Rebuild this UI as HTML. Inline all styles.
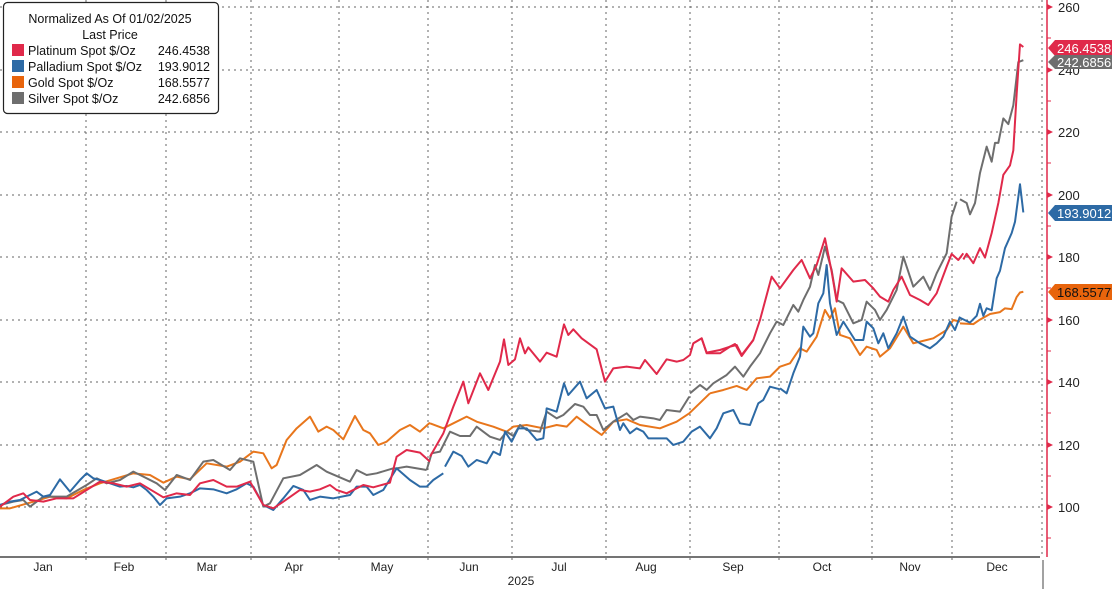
<!DOCTYPE html>
<html><head><meta charset="utf-8"><style>
html,body{margin:0;padding:0;background:#fff;}
svg{display:block;font-family:"Liberation Sans",sans-serif;}
</style></head><body>
<svg width="1112" height="589" viewBox="0 0 1112 589" xmlns="http://www.w3.org/2000/svg">
<rect width="1112" height="589" fill="#fff"/>
<g stroke="#666" stroke-width="1" stroke-dasharray="2,4">
<line x1="0" y1="7" x2="1044" y2="7"/><line x1="0" y1="70" x2="1044" y2="70"/>
<line x1="0" y1="132" x2="1044" y2="132"/><line x1="0" y1="195" x2="1044" y2="195"/>
<line x1="0" y1="257" x2="1044" y2="257"/><line x1="0" y1="320" x2="1044" y2="320"/>
<line x1="0" y1="382" x2="1044" y2="382"/><line x1="0" y1="445" x2="1044" y2="445"/>
<line x1="0" y1="507" x2="1044" y2="507"/>
<line x1="86" y1="0" x2="86" y2="562"/><line x1="166" y1="0" x2="166" y2="562"/>
<line x1="251" y1="0" x2="251" y2="562"/><line x1="339" y1="0" x2="339" y2="562"/>
<line x1="428" y1="0" x2="428" y2="562"/><line x1="512" y1="0" x2="512" y2="562"/>
<line x1="606" y1="0" x2="606" y2="562"/><line x1="690" y1="0" x2="690" y2="562"/>
<line x1="779" y1="0" x2="779" y2="562"/><line x1="872" y1="0" x2="872" y2="562"/>
<line x1="952" y1="0" x2="952" y2="562"/><line x1="1042" y1="0" x2="1042" y2="557"/>
</g>
<line x1="0" y1="557" x2="1040" y2="557" stroke="#222" stroke-width="1.2"/>
<line x1="1043" y1="560" x2="1043" y2="589" stroke="#444" stroke-width="1"/>
<g font-size="12" fill="#222" text-anchor="middle">
<text x="43" y="571">Jan</text><text x="124" y="571">Feb</text><text x="207" y="571">Mar</text>
<text x="294" y="571">Apr</text><text x="382" y="571">May</text><text x="469" y="571">Jun</text>
<text x="559" y="571">Jul</text><text x="646" y="571">Aug</text><text x="733" y="571">Sep</text>
<text x="822" y="571">Oct</text><text x="910" y="571">Nov</text><text x="997" y="571">Dec</text>
<text x="521" y="585">2025</text>
</g>
<line x1="1047" y1="0" x2="1047" y2="557" stroke="#e0294a" stroke-width="1.5"/>
<g fill="#e0294a">
<path d="M1047,4 l6,3 l-6,3z"/><path d="M1047,67 l6,3 l-6,3z"/><path d="M1047,129 l6,3 l-6,3z"/>
<path d="M1047,192 l6,3 l-6,3z"/><path d="M1047,254 l6,3 l-6,3z"/><path d="M1047,317 l6,3 l-6,3z"/>
<path d="M1047,379 l6,3 l-6,3z"/><path d="M1047,442 l6,3 l-6,3z"/><path d="M1047,504 l6,3 l-6,3z"/>
</g>
<g stroke="#e0294a" stroke-width="1">
<line x1="1047" y1="38" x2="1051" y2="38"/><line x1="1047" y1="101" x2="1051" y2="101"/>
<line x1="1047" y1="163" x2="1051" y2="163"/><line x1="1047" y1="226" x2="1051" y2="226"/>
<line x1="1047" y1="288" x2="1051" y2="288"/><line x1="1047" y1="351" x2="1051" y2="351"/>
<line x1="1047" y1="413" x2="1051" y2="413"/><line x1="1047" y1="476" x2="1051" y2="476"/>
<line x1="1047" y1="538" x2="1051" y2="538"/>
</g>
<g font-size="13" fill="#222">
<text x="1058" y="12">260</text><text x="1058" y="75">240</text><text x="1058" y="137">220</text>
<text x="1058" y="200">200</text><text x="1058" y="262">180</text><text x="1058" y="325">160</text>
<text x="1058" y="387">140</text><text x="1058" y="450">120</text><text x="1058" y="512">100</text>
</g>
<g fill="none" stroke-width="2" stroke-linejoin="round">
<g stroke="#e8761c">
<polyline transform="translate(0,380) scale(0.3333)" vector-effect="non-scaling-stroke" points="0,385 30,385 100,365 150,350 200,355 250,330 300,310 350,295 400,280 450,285 490,308 530,290 570,298 620,250 680,260 720,245 760,215 790,220 815,265 830,255 860,180 890,145 930,110 955,155 980,140 1000,150 1030,178 1065,108 1090,150 1110,160 1135,195 1160,185 1200,150 1230,135 1260,155 1290,128"/>
<polyline transform="translate(400,300) scale(0.3333)" vector-effect="non-scaling-stroke" points="90,370 130,385 200,350 230,365 280,380 320,395 340,380 380,375 430,385 470,375 500,380 530,350 570,380 605,405 640,365 680,358 720,375 780,385 830,365 868,340 930,280"/>
<polyline transform="translate(680,100) scale(0.3333)" vector-effect="non-scaling-stroke" points="90,880 130,870 170,858 200,870 230,835 270,830 300,800 330,790 360,745 380,755 410,710 435,630 450,655 465,625 480,705 510,715 540,765 560,740 590,750 600,770 630,745 670,680 700,730 740,720 760,715 800,690 820,660 840,665"/>
<polyline transform="translate(960,0) scale(0.3333,0.376)" vector-effect="non-scaling-stroke" points="0,860 40,862 60,850 90,835 120,830 135,820 155,822 170,790 180,778 190,776"/>
</g>
<g stroke="#6e6e6e">
<polyline transform="translate(0,380) scale(0.3333)" vector-effect="non-scaling-stroke" points="0,375 40,365 70,360 90,380 130,350 200,350 260,315 290,295 320,310 360,300 400,275 430,290 470,310 495,330 530,285 570,300 610,245 640,240 690,270 720,235 760,245 790,380 810,370 850,295 900,285 950,255 980,275 1050,305 1070,270 1100,285 1130,280 1180,265 1190,265 1220,260 1280,270"/>
<polyline transform="translate(400,300) scale(0.3333)" vector-effect="non-scaling-stroke" points="80,510 95,460 120,455 150,395 180,408 210,408 230,380 270,410 300,420 320,395 340,408 360,375 380,390 420,395 440,335 470,355 490,345 525,312 550,320 570,345 590,345 610,390 640,365 680,340 700,360 720,350 760,355 780,360 800,330 840,335 868,290"/>
<polyline transform="translate(680,100) scale(0.3333)" vector-effect="non-scaling-stroke" points="30,880 60,855 80,870 100,850 140,825 165,800 190,830 210,800 240,760 270,700 290,665 310,675 340,615 355,635 370,600 390,560 405,495 415,525 435,440 455,510 470,600 490,610 520,670 545,660 560,605 585,630 600,660 620,630 650,570 670,470 700,560 730,530 750,570 770,520 800,460 815,350 830,305"/>
<polyline transform="translate(960,0) scale(0.3333,0.376)" vector-effect="non-scaling-stroke" points="0,530 20,540 30,570 45,540 60,460 80,390 95,430 105,380 115,380 130,315 145,330 160,280 175,165 190,160"/>
</g>
<g stroke="#2d6aa5">
<polyline transform="translate(0,380) scale(0.3333)" vector-effect="non-scaling-stroke" points="0,375 30,365 60,360 80,350 110,335 130,350 150,345 180,298 210,335 240,300 260,280 280,295 300,300 330,310 360,320 380,318 400,322 420,315 440,330 460,350 480,375 500,355 540,350 570,340 600,325 640,328 680,340 710,328 740,310 760,320 790,375 820,390 850,355 880,318 910,330 930,360 960,350 1000,355 1050,345 1070,320 1100,320 1120,345 1150,330 1190,265 1230,300 1260,320 1280,320 1300,300 1330,280"/>
<polyline transform="translate(400,300) scale(0.3333)" vector-effect="non-scaling-stroke" points="135,500 160,455 185,468 205,500 230,480 260,490 280,455 300,465 315,395 335,425 355,385 380,385 410,420 430,415 440,325 470,335 492,250 505,285 540,245 560,295 590,270 615,325 640,320 660,390 670,370 690,400 710,385 730,395 745,415 800,415 820,435 850,425 875,395 900,380 930,415 950,385 970,340 1000,330 1020,370 1050,375 1075,310 1090,300 1110,260 1140,268"/>
<polyline transform="translate(680,100) scale(0.3333)" vector-effect="non-scaling-stroke" points="300,865 320,880 340,820 360,770 370,680 390,710 400,700 415,610 430,580 440,495 450,610 470,705 490,665 525,720 550,720 560,665 580,685 595,730 610,700 625,745 650,700 670,650 690,710 720,730 750,745 770,730 790,710 810,665 825,690 840,650"/>
<polyline transform="translate(960,0) scale(0.3333,0.376)" vector-effect="non-scaling-stroke" points="0,845 30,858 50,840 60,808 70,840 80,820 95,825 110,740 120,720 135,660 155,620 165,590 180,490 190,565"/>
</g>
<g stroke="#e0294a">
<polyline transform="translate(0,380) scale(0.3333)" vector-effect="non-scaling-stroke" points="0,380 40,350 70,340 90,360 130,365 170,355 220,355 260,330 300,305 340,310 380,320 420,310 470,340 490,352 530,340 570,345 600,310 640,300 680,320 710,320 750,305 790,375 820,385 850,365 900,330 930,335 960,328 990,315 1010,330 1040,340 1070,325 1090,315 1120,322 1170,308 1190,230 1220,210 1260,218 1290,245"/>
<polyline transform="translate(400,300) scale(0.3333)" vector-effect="non-scaling-stroke" points="90,470 130,400 160,320 190,245 205,310 240,220 265,270 300,185 312,118 325,195 345,178 360,115 375,160 385,142 420,185 440,158 470,170 492,73 505,105 520,88 545,115 590,148 615,245 640,205 680,200 720,205 735,180 770,222 800,178 830,185 850,180 870,165 880,130 905,115 920,158 960,150 990,140 1005,132 1025,168 1060,120"/>
<polyline transform="translate(680,100) scale(0.3333)" vector-effect="non-scaling-stroke" points="40,730 65,715 80,760 120,760 150,740 170,735 185,765 220,720 240,660 275,530 300,565 340,510 365,480 390,535 410,495 435,415 455,515 470,605 485,505 520,545 555,540 580,565 600,590 625,605 640,570 665,530 690,585 720,600 745,615 770,580 800,500 815,462 835,480 850,460"/>
<polyline transform="translate(960,0) scale(0.3333,0.376)" vector-effect="non-scaling-stroke" points="10,690 20,675 40,700 60,660 75,685 95,620 115,540 130,465 150,440 160,400 170,250 180,118 190,125"/>
</g>
</g>
<g font-size="13">
<path d="M1048,48 l7,-8 h57 v16 h-57z" fill="#e0294a"/><text x="1057" y="53" fill="#fff">246.4538</text>
<path d="M1048,62 l7,-7 h57 v14 h-57z" fill="#6e6e6e"/><text x="1057" y="67" fill="#fff">242.6856</text>
<path d="M1048,213 l7,-8 h57 v16 h-57z" fill="#2d6aa5"/><text x="1057" y="218" fill="#fff">193.9012</text>
<path d="M1048,292 l7,-8 h57 v16 h-57z" fill="#e8640c"/><text x="1057" y="297" fill="#111">168.5577</text>
</g>
<rect x="3.5" y="2.5" width="215" height="111" rx="4" fill="#fff" stroke="#222" stroke-width="1.2"/>
<g font-size="12.5" fill="#111">
<text x="110" y="23" text-anchor="middle">Normalized As Of 01/02/2025</text>
<text x="110" y="39" text-anchor="middle">Last Price</text>
<rect x="12" y="44" width="12" height="12" fill="#e0294a"/><text x="28" y="55">Platinum Spot $/Oz</text><text x="210" y="55" text-anchor="end">246.4538</text>
<rect x="12" y="60" width="12" height="12" fill="#2d6aa5"/><text x="28" y="71">Palladium Spot $/Oz</text><text x="210" y="71" text-anchor="end">193.9012</text>
<rect x="12" y="76" width="12" height="12" fill="#e8640c"/><text x="28" y="87">Gold Spot $/Oz</text><text x="210" y="87" text-anchor="end">168.5577</text>
<rect x="12" y="92" width="12" height="12" fill="#6e6e6e"/><text x="28" y="103">Silver Spot $/Oz</text><text x="210" y="103" text-anchor="end">242.6856</text>
</g>
</svg>
</body></html>
